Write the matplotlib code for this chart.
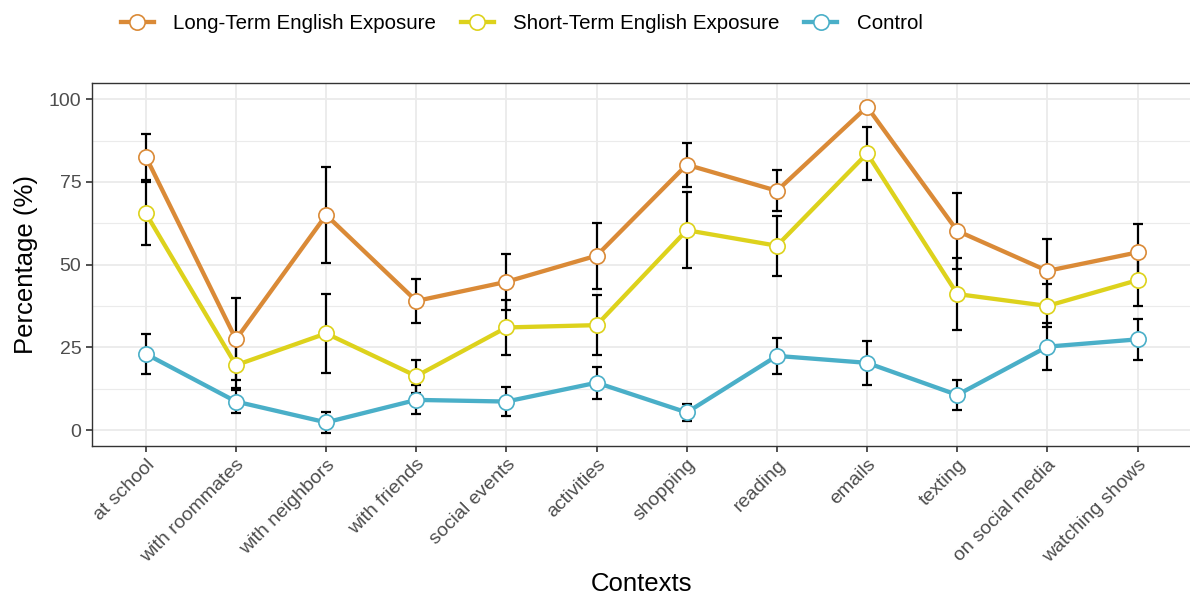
import numpy as np
import matplotlib
matplotlib.use("Agg")
import matplotlib.pyplot as plt
from matplotlib.lines import Line2D

plt.rcParams['font.family'] = ['Liberation Sans', 'DejaVu Sans']

contexts = ["at school", "with roommates", "with neighbors", "with friends",
            "social events", "activities", "shopping", "reading", "emails",
            "texting", "on social media", "watching shows"]

long_mean = [82.6, 27.4, 65.0, 39.0, 44.8, 52.7, 80.2, 72.3, 97.7, 60.2, 48.1, 53.7]
long_err = [7.0, 12.4, 14.5, 6.7, 8.4, 10.0, 6.7, 6.2, 1.5, 11.5, 9.5, 8.5]
short_mean = [65.5, 19.6, 29.2, 16.3, 31.0, 31.7, 60.4, 55.7, 83.6, 41.1, 37.5, 45.3]
short_err = [9.5, 7.0, 12.0, 5.0, 8.4, 9.0, 11.4, 9.0, 7.9, 11.0, 6.5, 7.7]
ctrl_mean = [23.0, 8.6, 2.3, 9.1, 8.6, 14.3, 5.3, 22.4, 20.3, 10.6, 25.2, 27.4]
ctrl_err = [6.0, 3.6, 3.2, 4.4, 4.5, 4.8, 2.5, 5.4, 6.7, 4.5, 7.0, 6.2]

groups = ["Long-Term English Exposure", "Short-Term English Exposure", "Control"]
colors = ["#DA8A37", "#DDD21C", "#4AAFC8"]

fig = plt.figure(figsize=(11.9, 6.06), dpi=100)
ax = fig.add_axes([0.0771, 0.2645, 0.9243, 0.598])

x = np.arange(len(contexts))
series = [(long_mean, long_err), (short_mean, short_err), (ctrl_mean, ctrl_err)]

# lines first, then error bars, then the open points on top
for (m, e), c in zip(series, colors):
    ax.plot(x, m, color=c, lw=3.1, zorder=3, solid_capstyle='butt')
for (m, e), c in zip(series, colors):
    ax.errorbar(x, m, yerr=e, fmt='none', ecolor='black', elinewidth=1.6,
                capsize=3.5, capthick=1.6, zorder=4)
for (m, e), c in zip(series, colors):
    ax.plot(x, m, ls='none', marker='o', ms=11, mfc='white', mec=c, mew=1.2, zorder=5)

ax.set_xlim(-0.6, len(contexts) - 0.4)
ax.set_ylim(-4.75, 104.8)
ax.set_yticks([0, 25, 50, 75, 100])
ax.set_yticks([12.5, 37.5, 62.5, 87.5], minor=True)
ax.set_xticks(x)
ax.set_xticklabels(contexts, rotation=45, ha='right', rotation_mode='anchor')

ax.grid(which='major', color='#EBEBEB', lw=1.3, zorder=0)
ax.grid(which='minor', axis='y', color='#EBEBEB', lw=0.8, zorder=0)
ax.set_axisbelow(True)
ax.tick_params(axis='both', which='major', labelsize=14, labelcolor='#4D4D4D',
               color='#333333', length=4, width=1.2)
ax.tick_params(axis='y', which='minor', length=0)
for s in ax.spines.values():
    s.set_color('#333333')
    s.set_linewidth(1.0)

ax.set_xlabel("Contexts", fontsize=18.5, labelpad=4)
ax.set_ylabel("Percentage (%)", fontsize=18.5, labelpad=8)

handles = [Line2D([0], [0], color=c, lw=3.1, marker='o', ms=11, mfc='white', mec=c, mew=1.2)
           for c in colors]
fig.legend(handles, groups, loc='center left', bbox_to_anchor=(0.1017, 0.961), ncol=3,
           frameon=False, fontsize=14.8, handlelength=1.6, handletextpad=0.95,
           columnspacing=1.2, borderpad=0, borderaxespad=0)

fig.savefig("out.png", dpi=100)
